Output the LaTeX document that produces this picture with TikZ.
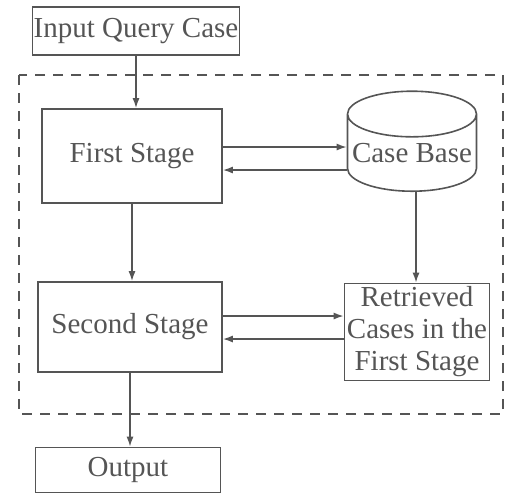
\documentclass[tikz,border=0pt]{standalone}
\usepackage{fontspec}
\setmainfont{Liberation Serif}
\usetikzlibrary{shapes.geometric,arrows.meta,positioning,calc}
\definecolor{inkgray}{RGB}{85,85,85}
\tikzset{
  stagebox/.style={rectangle, draw=inkgray, thick, inner sep=0pt,
                   text=inkgray, font=\fontsize{14.5}{16}\selectfont},
  basecyl/.style={cylinder, shape border rotate=90, aspect=0.38, draw=inkgray, thick,
                  inner sep=0pt, text=inkgray, font=\fontsize{14.5}{16}\selectfont},
  flow/.style={-{Latex[length=5pt,width=3.5pt]}, thick, inkgray},
  frame/.style={draw=inkgray, thick, dash pattern=on 5pt off 4pt},
}
\begin{document}
\begin{tikzpicture}[x=0.5pt,y=-0.5pt]
  \useasboundingbox (0,0) rectangle (507,495);
  % dashed frame
  \draw[frame] (19,75) rectangle (503,414);
  % Input and output
  \node[stagebox, minimum width=103.5pt, minimum height=24pt] (inp) at (136,31) {Input Query Case};
  \node[stagebox, minimum width=92.5pt, minimum height=22.5pt] (out) at (128,470) {Output};
  % Stages
  \node[stagebox, minimum width=90pt, minimum height=47pt] (fs) at (132,156) {First Stage};
  \node[stagebox, minimum width=92pt, minimum height=45pt] (ss) at (130,327) {Second Stage};
  % Case base and retrieved cases
  \node[basecyl, minimum width=64.5pt, minimum height=50pt] (cb) at (412,153) {Case Base};
  \node[stagebox, minimum width=72.5pt, minimum height=48.5pt, align=center] (rc) at (417,332)
    {Retrieved\\Cases in the\\First Stage};
  % connectors
  \draw[flow] (inp.south) -- (inp.south |- fs.north);
  \draw[flow] (fs.south) -- (fs.south |- ss.north);
  \draw[flow] (ss.south) -- (ss.south |- out.north);
  \draw[flow] ([xshift=2pt]cb.south) -- ([xshift=2pt]cb.south |- rc.north);
  \draw[flow] ([yshift=4.5pt]fs.east) -- ([yshift=4.5pt]fs.east -| cb.west);
  \draw[flow] ([yshift=-7pt]fs.east -| cb.west) -- ([yshift=-7pt]fs.east);
  \draw[flow] ([yshift=5.5pt]ss.east) -- ([yshift=5.5pt]ss.east -| rc.west);
  \draw[flow] ([yshift=-6pt]ss.east -| rc.west) -- ([yshift=-6pt]ss.east);
\end{tikzpicture}
\end{document}
